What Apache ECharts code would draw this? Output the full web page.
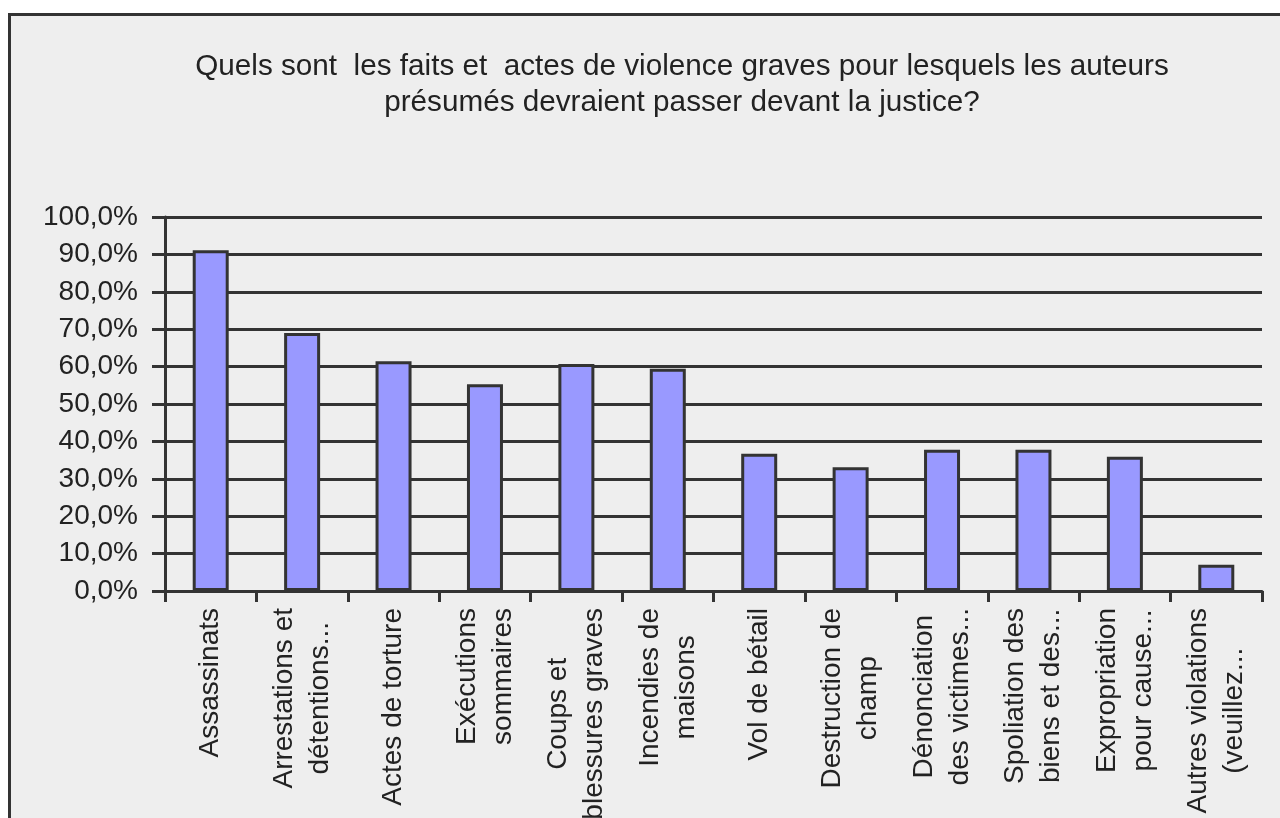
<!DOCTYPE html>
<html>
<head>
<meta charset="utf-8">
<script src="https://cdn.jsdelivr.net/npm/echarts@6/dist/echarts.min.js"></script>
<style>
  html, body { margin: 0; padding: 0; background: #ffffff; }
  #chart { width: 1280px; height: 818px; }
</style>
</head>
<body>
<div id="chart"></div>
<script>
// Survey answers: share of respondents citing each act
const titleLines = [
  'Quels sont  les faits et  actes de violence graves pour lesquels les auteurs',
  'présumés devraient passer devant la justice?'
];
const categories = [
  'Assassinats',
  'Arrestations et\ndétentions...',
  'Actes de torture',
  'Exécutions\nsommaires',
  'Coups et\nblessures graves',
  'Incendies de\nmaisons',
  'Vol de bétail',
  'Destruction de\nchamp',
  'Dénonciation\ndes victimes...',
  'Spoliation des\nbiens et des...',
  'Expropriation\npour cause...',
  'Autres violations\n(veuillez...'
];
const values = [91.1, 69.0, 61.4, 55.3, 60.7, 59.4, 36.7, 33.1, 37.8, 37.8, 35.9, 7.0];
const yTicks = { min: 0, max: 100, interval: 10 };

const INK = '#333333';
const TEXT = '#222222';
const FONT = '"Liberation Sans", Arial, sans-serif';

const chart = echarts.init(document.getElementById('chart'), null, { renderer: 'canvas' });

chart.setOption({
  backgroundColor: '#ffffff',
  animation: false,
  graphic: [{
    type: 'rect',
    z: -10,
    shape: { x: 9.5, y: 14.5, width: 1300, height: 830 },
    style: { fill: '#eeeeee', stroke: INK, lineWidth: 3 }
  }],
  title: {
    text: titleLines.join('\n'),
    left: 677,
    top: 44,
    textAlign: 'center',
    textStyle: {
      fontFamily: FONT,
      fontSize: 29.7,
      fontWeight: 'normal',
      color: TEXT,
      lineHeight: 36
    }
  },
  grid: {
    left: 165, right: 18, top: 217, bottom: 227,
    containLabel: false,
    outerBoundsMode: 'none'
  },
  xAxis: {
    type: 'category',
    data: categories,
    axisLine: { show: true, lineStyle: { color: INK, width: 3 } },
    axisTick: { show: true, length: 11, lineStyle: { color: INK, width: 3 } },
    axisLabel: {
      interval: 0,
      rotate: 90,
      margin: 17,
      formatter: function (v) {
        return v.split('\n').map(function (s) { return '{c|' + s + '}'; }).join('\n');
      },
      rich: {
        c: {
          align: 'center',
          fontFamily: FONT,
          fontSize: 28,
          lineHeight: 36,
          color: TEXT
        }
      }
    },
    splitLine: { show: false }
  },
  yAxis: {
    type: 'value',
    min: yTicks.min,
    max: yTicks.max,
    interval: yTicks.interval,
    axisLine: { show: true, lineStyle: { color: INK, width: 3 } },
    axisTick: { show: true, length: 13, lineStyle: { color: INK, width: 3 } },
    axisLabel: {
      margin: 27,
      fontFamily: FONT,
      fontSize: 28,
      color: TEXT,
      formatter: function (v) { return v.toFixed(1).replace('.', ',') + '%'; }
    },
    splitLine: { show: true, lineStyle: { color: INK, width: 3 } }
  },
  series: [{
    type: 'bar',
    data: values,
    barWidth: 36,
    itemStyle: { color: '#9999ff', borderColor: INK, borderWidth: 3 }
  }]
});
</script>
</body>
</html>
